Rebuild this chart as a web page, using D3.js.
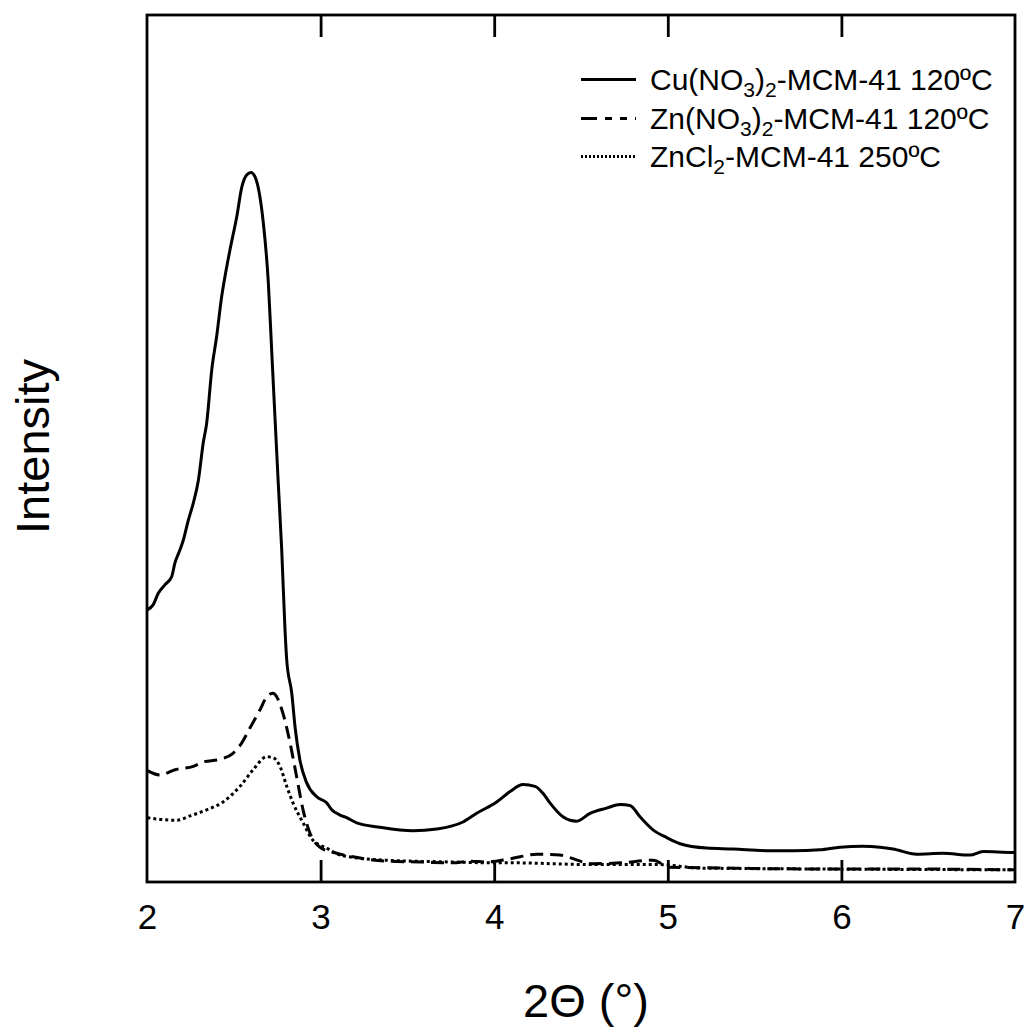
<!DOCTYPE html>
<html>
<head>
<meta charset="utf-8">
<script src="https://cdn.jsdelivr.net/npm/d3@7"></script>
<style>
  html, body { margin: 0; padding: 0; background: #fff; }
  text { font-family: "Liberation Sans", Arial, sans-serif; fill: #000; }
</style>
</head>
<body>
<svg id="chart" width="1028" height="1029"></svg>
<script>
// ---- data (2Theta in degrees, intensity in arbitrary units) ----
const xTicks = [2, 3, 4, 5, 6, 7];
const seriesNames = ["Cu(NO3)2-MCM-41 120ºC", "Zn(NO3)2-MCM-41 120ºC", "ZnCl2-MCM-41 250ºC"];

const cuNO3 = [
  [2.002,313],[2.036,319],[2.065,332],[2.104,342],[2.142,351],[2.161,367],[2.190,382],
  [2.209,393],[2.238,416],[2.267,436],[2.296,462],[2.324,505],[2.344,528],[2.373,589],
  [2.401,627],[2.430,673],[2.449,696],[2.478,727],[2.517,765],[2.546,799],[2.574,813],
  [2.599,816],[2.622,811],[2.647,792],[2.670,758],[2.699,689],[2.718,612],[2.737,535],
  [2.756,459],[2.776,382],[2.795,290],[2.805,255],[2.834,217],[2.853,178],[2.881,140],
  [2.920,114],[2.978,98],[3.035,91],[3.064,83],[3.112,77],[3.150,74],[3.208,68],
  [3.342,63],[3.532,59],[3.669,61],[3.820,69],[3.899,79],[4.014,92],[4.091,104],
  [4.166,112],[4.235,110],[4.281,102],[4.321,91],[4.396,75],[4.437,71],[4.475,70],
  [4.552,79],[4.648,85],[4.725,89],[4.782,88],[4.840,75],[4.915,60],[4.994,51],
  [5.071,44],[5.224,39],[5.376,38],[5.570,36],[5.721,36],[5.877,37],[5.992,40],
  [6.124,41],[6.222,40],[6.297,38],[6.434,32],[6.585,33],[6.741,31],[6.816,35],
  [6.988,34],[7.000,34]
];

const znNO3 = [
  [2.002,128],[2.075,123],[2.161,129],[2.267,133],[2.323,138],[2.420,141],[2.495,148],
  [2.546,160],[2.593,177],[2.651,198],[2.690,213],[2.726,217],[2.747,213],[2.783,194],
  [2.824,160],[2.862,121],[2.899,83],[2.939,56],[2.997,40],[3.093,33],[3.187,29],
  [3.381,24],[3.573,23],[3.763,22],[3.861,24],[3.957,23],[4.072,26],[4.149,29],
  [4.245,32],[4.379,31],[4.418,29],[4.569,21],[4.725,22],[4.915,25],[5.012,17],
  [5.341,16],[5.819,15],[6.338,15],[7.000,14]
];

const znCl2 = [
  [2.002,74],[2.075,72],[2.171,71],[2.248,76],[2.344,83],[2.438,92],[2.536,110],
  [2.611,129],[2.690,144],[2.726,143],[2.766,133],[2.805,110],[2.841,91],[2.899,68],
  [2.956,48],[3.035,39],[3.112,31],[3.381,25],[3.763,23],[3.993,22],[4.149,22],
  [4.339,21],[4.569,20],[4.955,20],[5.185,16],[5.819,15],[7.000,14]
];

// ---- layout ----
const svg = d3.select("#chart");
const m = { left: 147, right: 1015, top: 15, bottom: 882 };
const x = d3.scaleLinear().domain([2, 7]).range([m.left, m.right]);
const y = d3.scaleLinear().domain([0, 997]).range([m.bottom, m.top]);

const styles = [
  { dash: null },
  { dash: "13,7" },
  { dash: "3,3" }
];
const seriesData = [cuNO3, znNO3, znCl2];

const line = d3.line().x(d => x(d[0])).y(d => y(d[1])).curve(d3.curveMonotoneX);

svg.append("clipPath").attr("id", "clip")
  .append("rect").attr("x", m.left).attr("y", m.top)
  .attr("width", m.right - m.left).attr("height", m.bottom - m.top);

const g = svg.append("g").attr("clip-path", "url(#clip)");
seriesData.forEach((d, i) => {
  g.append("path").datum(d)
    .attr("d", line)
    .attr("fill", "none")
    .attr("stroke", "#000")
    .attr("stroke-width", 3)
    .attr("stroke-linejoin", "round")
    .attr("stroke-dasharray", styles[i].dash);
});

// axes
const tickLen = 22;
const bottomAxis = d3.axisBottom(x).tickValues(xTicks).tickSize(-tickLen).tickFormat(d3.format("d"));
const topAxis = d3.axisTop(x).tickValues(xTicks.slice(1, -1)).tickSize(-tickLen).tickFormat("");

const gb = svg.append("g").attr("transform", `translate(0,${m.bottom})`).call(bottomAxis);
gb.select(".domain").remove();
gb.selectAll(".tick line").attr("stroke", "#000").attr("stroke-width", 2.8)
  .filter(d => d === 2 || d === 7).remove();
gb.selectAll(".tick text").attr("font-size", 35).attr("font-family", "Liberation Sans, Arial, sans-serif")
  .attr("dy", 0).attr("y", 47).attr("fill", "#000");

const gt = svg.append("g").attr("transform", `translate(0,${m.top})`).call(topAxis);
gt.select(".domain").remove();
gt.selectAll(".tick line").attr("stroke", "#000").attr("stroke-width", 2.8);

// frame
svg.append("rect")
  .attr("x", m.left).attr("y", m.top)
  .attr("width", m.right - m.left).attr("height", m.bottom - m.top)
  .attr("fill", "none").attr("stroke", "#000").attr("stroke-width", 2.8);

// axis titles
svg.append("text")
  .attr("x", (m.left + m.right) / 2 + 5).attr("y", 1017)
  .attr("text-anchor", "middle").attr("font-size", 47)
  .text("2Θ (°)");

svg.append("text")
  .attr("transform", `translate(49,${(m.top + m.bottom) / 2 - 2}) rotate(-90)`)
  .attr("text-anchor", "middle").attr("font-size", 47)
  .text("Intensity");

// legend
const legendRows = [
  { parts: [["Cu(NO", 0], ["3", 1], [")", 0], ["2", 1], ["-MCM-41 120ºC", 0]], dash: null },
  { parts: [["Zn(NO", 0], ["3", 1], [")", 0], ["2", 1], ["-MCM-41 120ºC", 0]], dash: "16,8,7,8,7,8" },
  { parts: [["ZnCl", 0], ["2", 1], ["-MCM-41 250ºC", 0]], dash: "2,2" }
];
const legBase = [90, 129, 167];
legendRows.forEach((r, i) => {
  const ly = legBase[i] - 10.5;
  svg.append("line")
    .attr("x1", 581).attr("x2", 636).attr("y1", ly).attr("y2", ly)
    .attr("stroke", "#000").attr("stroke-width", 3)
    .attr("stroke-dasharray", r.dash);
  const t = svg.append("text").attr("x", 650).attr("y", legBase[i]).attr("font-size", 30);
  r.parts.forEach((p, j) => {
    const ts = t.append("tspan").text(p[0]);
    const prevSub = j > 0 && r.parts[j - 1][1];
    if (p[1]) {
      ts.attr("font-size", 21).attr("dy", prevSub ? 0 : 7);
    } else {
      ts.attr("dy", prevSub ? -7 : 0);
    }
  });
});
</script>
</body>
</html>
